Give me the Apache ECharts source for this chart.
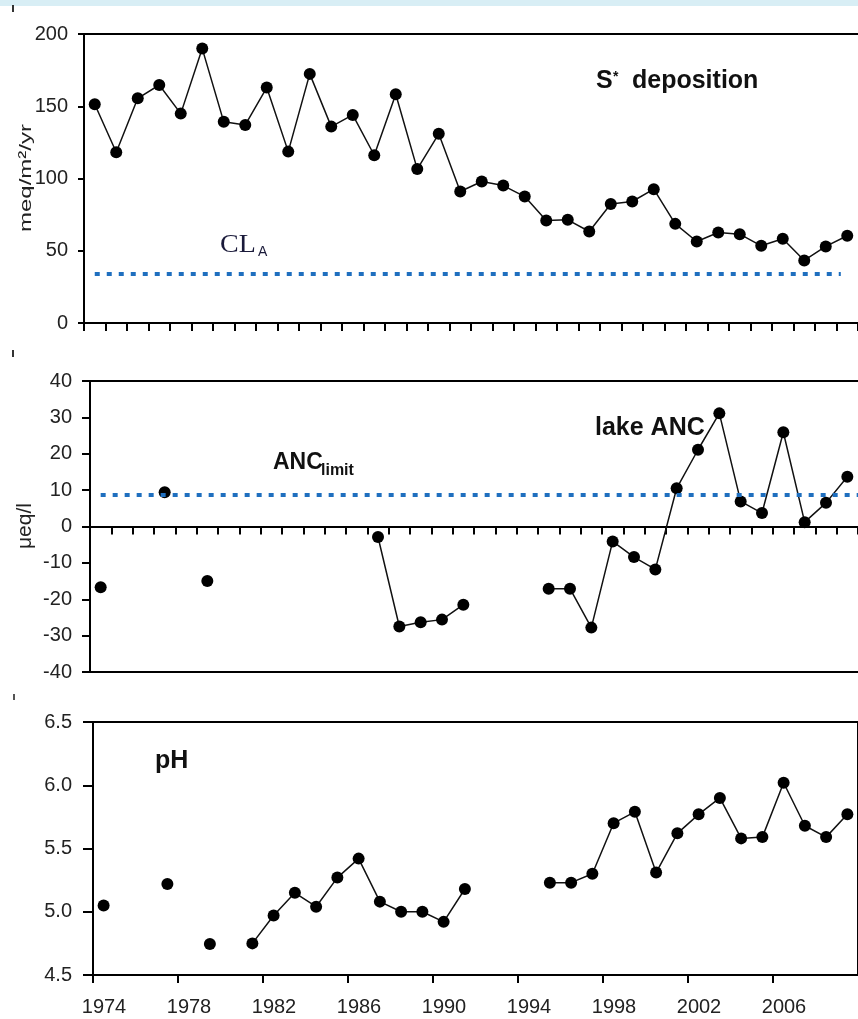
<!DOCTYPE html>
<html>
<head>
<meta charset="utf-8">
<title>S* deposition, lake ANC, pH</title>
<script src="https://cdn.jsdelivr.net/npm/echarts@6/dist/echarts.min.js"></script>
<style>
html, body { margin: 0; padding: 0; background: #fff; }
#main { width: 858px; height: 1019px; }
</style>
</head>
<body>
<div id="main"></div>
<script>
// one value per year, null = no sample that year
var years = [1974, 1975, 1976, 1977, 1978, 1979, 1980, 1981, 1982, 1983, 1984, 1985,
  1986, 1987, 1988, 1989, 1990, 1991, 1992, 1993, 1994, 1995, 1996, 1997,
  1998, 1999, 2000, 2001, 2002, 2003, 2004, 2005, 2006, 2007, 2008, 2009];

// S* deposition, meq/m2/yr
var deposition = [151.4, 118.2, 155.5, 164.7, 144.9, 189.9, 139.2, 137.1, 162.9, 118.6, 172.4, 135.9,
  144.0, 116.1, 158.3, 106.5, 130.9, 91.0, 97.9, 95.1, 87.5, 70.9, 71.4, 63.3,
  82.3, 84.1, 92.6, 68.6, 56.4, 62.6, 61.5, 53.4, 58.3, 43.3, 53.0, 60.4];

// lake ANC, ueq/l
var lakeAnc = [-16.7, null, null, 9.4, null, -15.0, null, null, null, null, null, null,
  null, -2.9, -27.5, -26.3, -25.6, -21.5, null, null, null, -17.1, -17.1, -27.8,
  -4.1, -8.4, -11.8, 10.5, 21.1, 31.1, 6.9, 3.7, 25.9, 1.2, 6.5, 13.7];

// lake pH
var ph = [5.05, null, null, 5.22, null, 4.745, null, 4.75, 4.97, 5.15, 5.04, 5.27,
  5.42, 5.08, 5.00, 5.00, 4.92, 5.18, null, null, null, 5.23, 5.23, 5.30,
  5.70, 5.79, 5.31, 5.62, 5.77, 5.90, 5.58, 5.59, 6.02, 5.68, 5.59, 5.77];

// critical load and ANC limit, with the span of years the dotted lines cover
var critLoad = 34;
var critLoadSpan = [1974.5, 2009.2];
var ancLimit = 8.8;
var ancLimitSpan = [1974.5, 2010];

// tick values
var depTicks = [0, 50, 100, 150, 200];
var ancTicks = [-40, -30, -20, -10, 0, 10, 20, 30, 40];
var phTicks = [4.5, 5.0, 5.5, 6.0, 6.5];
var yearTicks = [1974, 1978, 1982, 1986, 1990, 1994, 1998, 2002, 2006];
var yearRange = [1974, 2010];

var font = 'Liberation Sans, Arial, sans-serif';
var black = { color: '#000', width: 2 };

function toPoints(vals) {
  // points sit in the middle of each year
  return years.map(function (yr, i) { return [yr + 0.5, vals[i]]; });
}

function xAxisFor(gridIndex, withLabels) {
  return {
    type: 'value',
    gridIndex: gridIndex,
    position: 'bottom',
    min: yearRange[0],
    max: yearRange[1],
    interval: withLabels ? yearTicks[1] - yearTicks[0] : 1,
    axisLine: { show: true, onZero: true, lineStyle: black },
    axisTick: { show: true, inside: false, length: 8, lineStyle: black },
    splitLine: { show: false },
    axisLabel: {
      show: withLabels,
      showMaxLabel: false,
      margin: 22,
      padding: [0, 0, 0, 22],
      color: '#222',
      fontFamily: font,
      fontSize: 20,
      formatter: function (v) { return String(v); }
    }
  };
}

// plain line along the top or bottom edge of a panel
function frameAxis(gridIndex, position) {
  return {
    type: 'value',
    gridIndex: gridIndex,
    position: position,
    min: yearRange[0],
    max: yearRange[1],
    axisLine: { show: true, onZero: false, lineStyle: black },
    axisTick: { show: false },
    axisLabel: { show: false },
    splitLine: { show: false }
  };
}

function yAxisFor(gridIndex, ticks, tickLen, margin, fmt) {
  return {
    type: 'value',
    gridIndex: gridIndex,
    min: ticks[0],
    max: ticks[ticks.length - 1],
    interval: ticks[1] - ticks[0],
    axisLine: { show: true, lineStyle: black },
    axisTick: { show: true, inside: false, length: tickLen, lineStyle: black },
    splitLine: { show: false },
    axisLabel: {
      margin: margin,
      color: '#222',
      fontFamily: font,
      fontSize: 20,
      formatter: fmt
    }
  };
}

function lineSeries(idx, vals) {
  return {
    type: 'line',
    xAxisIndex: idx,
    yAxisIndex: idx,
    data: toPoints(vals),
    connectNulls: false,
    showSymbol: true,
    symbol: 'circle',
    symbolSize: 12,
    lineStyle: { color: '#111', width: 1.5 },
    itemStyle: { color: '#000' }
  };
}

function dottedLine(value, span) {
  return {
    silent: true,
    symbol: 'none',
    label: { show: false },
    lineStyle: { color: '#1f6fbf', width: 4, type: [5, 7] },
    data: [[{ coord: [span[0], value] }, { coord: [span[1], value] }]]
  };
}

function label(text, x, y, size) {
  return {
    type: 'text',
    x: x,
    y: y,
    style: {
      text: text,
      fill: '#111',
      font: 'bold ' + size + 'px ' + font,
      textAlign: 'left',
      textVerticalAlign: 'middle'
    }
  };
}

var chart = echarts.init(document.getElementById('main'));

var depSeries = lineSeries(0, deposition);
depSeries.markLine = dottedLine(critLoad, critLoadSpan);
var ancSeries = lineSeries(1, lakeAnc);
ancSeries.markLine = dottedLine(ancLimit, ancLimitSpan);
var phSeries = lineSeries(2, ph);

chart.setOption({
  animation: false,
  backgroundColor: '#fff',
  grid: [
    { left: 84, top: 34, width: 781, height: 289, show: false },
    { left: 90, top: 381, width: 772, height: 291, show: false },
    { left: 93, top: 722, width: 765, height: 253, show: true, borderColor: '#000', borderWidth: 2, backgroundColor: 'transparent' }
  ],
  xAxis: [
    xAxisFor(0, false), xAxisFor(1, false), xAxisFor(2, true),
    frameAxis(0, 'top'), frameAxis(1, 'top'), frameAxis(1, 'bottom')
  ],
  yAxis: [
    yAxisFor(0, depTicks, 6, 16, function (v) { return String(v); }),
    yAxisFor(1, ancTicks, 8, 18, function (v) { return String(v); }),
    yAxisFor(2, phTicks, 10, 21, function (v) { return v.toFixed(1); })
  ],
  series: [depSeries, ancSeries, phSeries],
  graphic: [
    // pale blue strip along the top edge
    { type: 'rect', shape: { x: 0, y: 0, width: 858, height: 6 }, style: { fill: '#d8eef5' }, silent: true },
    // small stray marks at the left edge
    { type: 'rect', shape: { x: 12, y: 5, width: 2, height: 7 }, style: { fill: '#333' }, silent: true },
    { type: 'rect', shape: { x: 12, y: 350, width: 2, height: 7 }, style: { fill: '#333' }, silent: true },
    { type: 'rect', shape: { x: 13, y: 694, width: 2, height: 6 }, style: { fill: '#555' }, silent: true },

    // axis titles
    {
      type: 'text', x: 26, y: 178, rotation: Math.PI / 2, scaleY: 0.7,
      style: { text: 'meq/m²/yr', fill: '#222', font: '24px ' + font, textAlign: 'center', textVerticalAlign: 'middle' }
    },
    {
      type: 'text', x: 25, y: 526, rotation: Math.PI / 2,
      style: { text: 'μeq/l', fill: '#222', font: '21px ' + font, textAlign: 'center', textVerticalAlign: 'middle' }
    },

    // panel labels
    label('S', 596, 81, 25),
    label('*', 613, 77, 14),
    label('deposition', 632, 81, 25),
    {
      type: 'text', x: 220, y: 245, scaleX: 1.12,
      style: { text: 'CL', fill: '#1a1a3a', font: '25px Liberation Serif, Times New Roman, serif', textAlign: 'left', textVerticalAlign: 'middle' }
    },
    {
      type: 'text', x: 258, y: 252,
      style: { text: 'A', fill: '#1a1a3a', font: '14px ' + font, textAlign: 'left', textVerticalAlign: 'middle' }
    },
    label('ANC', 273, 463, 23),
    label('limit', 321, 471, 16),
    label('lake ANC', 595, 428, 25),
    label('pH', 155, 761, 25)
  ]
});
</script>
</body>
</html>
